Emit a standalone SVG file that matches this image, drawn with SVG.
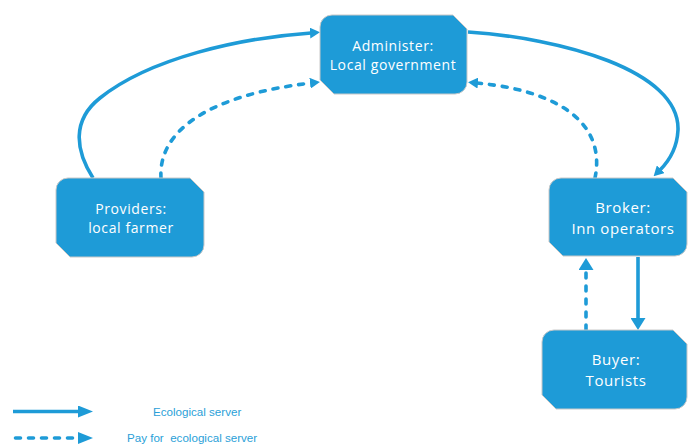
<svg xmlns="http://www.w3.org/2000/svg" width="688" height="447" viewBox="0 0 688 447">
  <style>
    .node { fill: #1e9bd7; stroke: #c8c8c8; stroke-width: 1; }
    .label { fill: #ffffff; font-family: "Open Sans", "Liberation Sans", sans-serif; text-anchor: middle; letter-spacing: 0.6px; }
    .flow { fill: none; stroke: #1e9bd7; stroke-width: 3.6; }
    .dash { stroke-dasharray: 5 8; stroke-linecap: round; }
    .legend { fill: #2a9fd8; font-family: "Liberation Sans", "Open Sans", sans-serif; font-size: 11.6px; white-space: pre; }
  </style>
  <defs>
    <marker id="head" markerUnits="userSpaceOnUse" markerWidth="10" markerHeight="11" refX="1" refY="5.5" orient="auto">
      <path d="M0,0 L10,5.5 L0,11 Z" fill="#1e9bd7"/>
    </marker>
    <marker id="headBig" markerUnits="userSpaceOnUse" markerWidth="12" markerHeight="15" refX="1" refY="7.5" orient="auto">
      <path d="M0,0 L12,7.5 L0,15 Z" fill="#1e9bd7"/>
    </marker>
    <marker id="headKey" markerUnits="userSpaceOnUse" markerWidth="15" markerHeight="12" refX="1" refY="6" orient="auto">
      <path d="M0,0 L15,6 L0,12 Z" fill="#1e9bd7"/>
    </marker>
  </defs>

  <!-- connectors -->
  <g id="connectors">
    <path class="flow" d="M93,178 C75,150 72,120 100,98 C150,58 240,38 311,33" marker-end="url(#head)"/>
    <path class="flow dash" d="M161,178 C158,130 210,95 311,83" marker-end="url(#head)"/>
    <path class="flow" d="M468,32 C560,38 680,70 678,130 C677,150 668,162 660,170" marker-end="url(#head)"/>
    <path class="flow dash" d="M595,178 C605,130 570,92 477,83" marker-end="url(#head)"/>
    <path class="flow dash" d="M586,330 V269" marker-end="url(#headBig)"/>
    <path class="flow" d="M638,257 V319" marker-end="url(#headBig)"/>
  </g>

  <g id="administer">
    <path class="node" d="M332,15 H453 L467,29 V82 A12,12 0 0 1 455,94 H334 L320,80 V27 A12,12 0 0 1 332,15 Z"/>
    <text class="label" x="393" y="50.5" font-size="14">Administer:</text>
    <text class="label" x="393" y="69.5" font-size="14">Local government</text>
  </g>

  <g id="providers">
    <path class="node" d="M68,178 H190 L204,192 V245 A12,12 0 0 1 192,257 H70 L56,243 V190 A12,12 0 0 1 68,178 Z"/>
    <text class="label" x="131" y="214" font-size="14">Providers:</text>
    <text class="label" x="131" y="233" font-size="14">local farmer</text>
  </g>

  <g id="broker">
    <path class="node" d="M561,178 H673 L687,192 V244 A12,12 0 0 1 675,256 H563 L549,242 V190 A12,12 0 0 1 561,178 Z"/>
    <text class="label" x="623" y="212.5" font-size="15">Broker:</text>
    <text class="label" x="623" y="233.5" font-size="15">Inn operators</text>
  </g>

  <g id="buyer">
    <path class="node" d="M554,330 H673 L687,344 V397 A12,12 0 0 1 675,409 H556 L542,395 V342 A12,12 0 0 1 554,330 Z"/>
    <text class="label" x="616" y="364.5" font-size="15">Buyer:</text>
    <text class="label" x="616" y="385.5" font-size="15">Tourists</text>
  </g>

  <!-- key -->
  <g id="legend">
    <path class="flow" d="M13,411.5 H79" marker-end="url(#headKey)"/>
    <text class="legend" x="153" y="415.5">Ecological server</text>
    <path class="flow dash" d="M15.5,438 H79" stroke-width="5" stroke-dasharray="6.5 8.2" marker-end="url(#headKey)"/>
    <text class="legend" x="127" y="442">Pay for  ecological server</text>
  </g>
</svg>
